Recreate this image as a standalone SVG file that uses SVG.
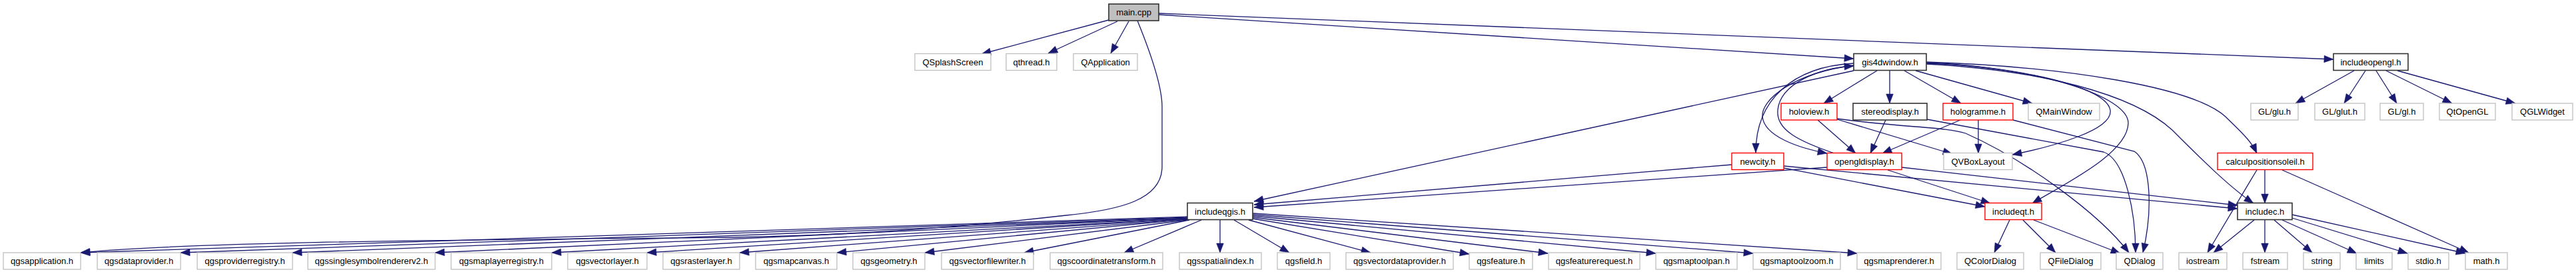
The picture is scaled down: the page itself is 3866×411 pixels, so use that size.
<svg xmlns="http://www.w3.org/2000/svg" width="3866" height="411" viewBox="0 0 3866 411">
<style>
.n rect{fill:#fff;stroke:#bfbfbf;stroke-width:1.3}
.n.b rect{stroke:#333;stroke-width:1.6}
.n.r rect{stroke:#ff0000;stroke-width:1.4}
.n.m rect{fill:#bfbfbf;stroke:#333;stroke-width:1.6}
.n text{font-family:"Liberation Sans",Arial,sans-serif;font-size:13px;fill:#000;text-anchor:middle}
.e path{fill:none;stroke:#191970;stroke-width:1.3;marker-end:url(#ah)}
</style>
<defs>
<marker id="ah" markerUnits="userSpaceOnUse" markerWidth="16" markerHeight="12" viewBox="0 -6 14 12" refX="14" refY="0" orient="auto">
<path d="M0,-5.3 L14,0 L0,5.3 z" fill="#191970" stroke="#191970" stroke-width="0.5"/>
</marker>
</defs>
<rect width="3866" height="411" fill="#fff"/>
<g class="e" id="connectors">
<path d="M1664,30 L1473,81"/>
<path d="M1677,32 L1573,80"/>
<path d="M1694,32 L1667,80"/>
<path d="M1707,31 C1725,75 1744,130 1744,160 L1744,250 C1744,300 1680,315 1600,323 C1450,340 1300,352 1100,356 C700,360 300,362 121,379"/>
<path d="M1739,22 L2782,88"/>
<path d="M1739,20 L3502,89"/>
<path d="M2782,106 L1882,302"/>
<path d="M2782,95 C2690,100 2635,150 2635,229"/>
<path d="M2782,98 C2690,110 2643,150 2645,175 C2648,205 2700,222 2742,230"/>
<path d="M2753,230 C2700,212 2665,195 2668,165 C2672,125 2730,102 2782,99"/>
<path d="M2817,106 L2737,155"/>
<path d="M2836,106 L2836,155"/>
<path d="M2858,106 L2943,155"/>
<path d="M2875,106 L3050,155"/>
<path d="M2891,94 C3000,98 3160,125 3167,165 C3172,195 3080,220 3020,232"/>
<path d="M2891,95 C3060,100 3195,145 3194,185 C3193,230 3100,275 3050,305"/>
<path d="M2891,96 C3060,105 3200,140 3260,195 C3300,235 3345,280 3382,305"/>
<path d="M2891,93 C3100,100 3290,130 3340,175 C3360,195 3378,210 3387,230"/>
<path d="M2728,180 L2785,230"/>
<path d="M2757,179 L2930,231"/>
<path d="M2757,178 C2860,192 2920,190 2950,200 C3040,240 3150,320 3195,379"/>
<path d="M2830,180 L2807,230"/>
<path d="M2892,179 L3157,228 C3190,240 3205,320 3205,379"/>
<path d="M2942,180 L2825,230"/>
<path d="M2969,180 L2969,230"/>
<path d="M3021,180 L3203,227 C3230,245 3230,320 3216,379"/>
<path d="M2599,247 L1882,307"/>
<path d="M2677,252 L2979,310"/>
<path d="M2677,249 L3358,313"/>
<path d="M2742,251 L1882,311"/>
<path d="M2833,255 L2987,305"/>
<path d="M2854,251 L3358,308"/>
<path d="M3387,255 C3360,300 3330,350 3313,379"/>
<path d="M3399,255 L3399,305"/>
<path d="M3425,255 L3705,379"/>
<path d="M3016,330 L2993,379"/>
<path d="M3036,330 L3085,379"/>
<path d="M3052,330 L3182,380"/>
<path d="M3383,330 L3322,379"/>
<path d="M3399,330 L3399,379"/>
<path d="M3413,330 L3470,379"/>
<path d="M3425,330 L3537,380"/>
<path d="M3440,327 L3613,380"/>
<path d="M3440,322 L3700,380"/>
<path d="M3533,106 L3445,155"/>
<path d="M3550,106 L3518,155"/>
<path d="M3566,106 L3597,155"/>
<path d="M3581,106 L3680,155"/>
<path d="M3598,106 L3775,155"/>
<path d="M1782,325 L121,379"/>
<path d="M1782,326 L271,379"/>
<path d="M1782,327 L439,379"/>
<path d="M1782,327 L653,379"/>
<path d="M1782,328 L828,379"/>
<path d="M1782,328 L971,379"/>
<path d="M1782,329 L1110,379"/>
<path d="M1782,329 L1256,379"/>
<path d="M1782,330 L1388,379"/>
<path d="M1785,330 L1537,379"/>
<path d="M1803,330 L1687,379"/>
<path d="M1831,330 L1831,379"/>
<path d="M1852,330 L1935,379"/>
<path d="M1874,330 L2057,379"/>
<path d="M1880,328 L2205,381"/>
<path d="M1880,326 L2323,380"/>
<path d="M1880,324 L2485,380"/>
<path d="M1880,322 L2631,380"/>
<path d="M1880,320 L2787,380"/>
</g>
<g id="nodes">
<g class="n m" id="n-main"><rect x="1664" y="6" width="75" height="25"/><text x="1701.5" y="23">main.cpp</text></g>
<g class="n" id="n-qsplash"><rect x="1373" y="80.5" width="114" height="25"/><text x="1430" y="97.5">QSplashScreen</text></g>
<g class="n" id="n-qthread"><rect x="1510" y="80.5" width="76" height="25"/><text x="1548" y="97.5">qthread.h</text></g>
<g class="n" id="n-qapp"><rect x="1611" y="80.5" width="96" height="25"/><text x="1659" y="97.5">QApplication</text></g>
<g class="n b" id="n-gis4d"><rect x="2782" y="80.5" width="109" height="25"/><text x="2836.5" y="97.5">gis4dwindow.h</text></g>
<g class="n b" id="n-incgl"><rect x="3502" y="80.5" width="112" height="25"/><text x="3558" y="97.5">includeopengl.h</text></g>
<g class="n r" id="n-holoview"><rect x="2673" y="155" width="84" height="25"/><text x="2715" y="172">holoview.h</text></g>
<g class="n b" id="n-stereo"><rect x="2781" y="155" width="111" height="25"/><text x="2836.5" y="172">stereodisplay.h</text></g>
<g class="n r" id="n-hologramme"><rect x="2916" y="155" width="105" height="25"/><text x="2968.5" y="172">hologramme.h</text></g>
<g class="n" id="n-qmainwindow"><rect x="3044" y="155" width="107" height="25"/><text x="3097.5" y="172">QMainWindow</text></g>
<g class="n" id="n-glu"><rect x="3378" y="155" width="71" height="25"/><text x="3413.5" y="172">GL/glu.h</text></g>
<g class="n" id="n-glut"><rect x="3474" y="155" width="75" height="25"/><text x="3511.5" y="172">GL/glut.h</text></g>
<g class="n" id="n-gl"><rect x="3572" y="155" width="65" height="25"/><text x="3604.5" y="172">GL/gl.h</text></g>
<g class="n" id="n-qtopengl"><rect x="3661" y="155" width="84" height="25"/><text x="3703" y="172">QtOpenGL</text></g>
<g class="n" id="n-qglwidget"><rect x="3770" y="155" width="91" height="25"/><text x="3815.5" y="172">QGLWidget</text></g>
<g class="n r" id="n-newcity"><rect x="2599" y="229.5" width="78" height="25"/><text x="2638" y="246.5">newcity.h</text></g>
<g class="n r" id="n-opengldisplay"><rect x="2742" y="229.5" width="112" height="25"/><text x="2798" y="246.5">opengldisplay.h</text></g>
<g class="n" id="n-qvbox"><rect x="2917" y="229.5" width="103" height="25"/><text x="2968.5" y="246.5">QVBoxLayout</text></g>
<g class="n r" id="n-calc"><rect x="3328" y="229.5" width="143" height="25"/><text x="3399.5" y="246.5">calculpositionsoleil.h</text></g>
<g class="n b" id="n-incqgis"><rect x="1782" y="304.5" width="98" height="25"/><text x="1831" y="321.5">includeqgis.h</text></g>
<g class="n r" id="n-incqt"><rect x="2979" y="304.5" width="85" height="25"/><text x="3021.5" y="321.5">includeqt.h</text></g>
<g class="n b" id="n-incc"><rect x="3358" y="304.5" width="82" height="25"/><text x="3399" y="321.5">includec.h</text></g>
<g class="n" id="n-qgsapplication"><rect x="5" y="379" width="116" height="25"/><text x="63" y="396">qgsapplication.h</text></g>
<g class="n" id="n-qgsdataprovider"><rect x="146" y="379" width="125" height="25"/><text x="208.5" y="396">qgsdataprovider.h</text></g>
<g class="n" id="n-qgsproviderregistry"><rect x="296" y="379" width="143" height="25"/><text x="367.5" y="396">qgsproviderregistry.h</text></g>
<g class="n" id="n-qgssinglesymbol"><rect x="462" y="379" width="191" height="25"/><text x="557.5" y="396">qgssinglesymbolrendererv2.h</text></g>
<g class="n" id="n-qgsmaplayerregistry"><rect x="677" y="379" width="151" height="25"/><text x="752.5" y="396">qgsmaplayerregistry.h</text></g>
<g class="n" id="n-qgsvectorlayer"><rect x="852" y="379" width="119" height="25"/><text x="911.5" y="396">qgsvectorlayer.h</text></g>
<g class="n" id="n-qgsrasterlayer"><rect x="995" y="379" width="115" height="25"/><text x="1052.5" y="396">qgsrasterlayer.h</text></g>
<g class="n" id="n-qgsmapcanvas"><rect x="1134" y="379" width="122" height="25"/><text x="1195" y="396">qgsmapcanvas.h</text></g>
<g class="n" id="n-qgsgeometry"><rect x="1280" y="379" width="108" height="25"/><text x="1334" y="396">qgsgeometry.h</text></g>
<g class="n" id="n-qgsvectorfilewriter"><rect x="1413" y="379" width="138" height="25"/><text x="1482" y="396">qgsvectorfilewriter.h</text></g>
<g class="n" id="n-qgscoordinatetransform"><rect x="1576" y="379" width="169" height="25"/><text x="1660.5" y="396">qgscoordinatetransform.h</text></g>
<g class="n" id="n-qgsspatialindex"><rect x="1770" y="379" width="123" height="25"/><text x="1831.5" y="396">qgsspatialindex.h</text></g>
<g class="n" id="n-qgsfield"><rect x="1917" y="379" width="79" height="25"/><text x="1956.5" y="396">qgsfield.h</text></g>
<g class="n" id="n-qgsvectordataprovider"><rect x="2020" y="379" width="161" height="25"/><text x="2100.5" y="396">qgsvectordataprovider.h</text></g>
<g class="n" id="n-qgsfeature"><rect x="2205" y="379" width="95" height="25"/><text x="2252.5" y="396">qgsfeature.h</text></g>
<g class="n" id="n-qgsfeaturerequest"><rect x="2324" y="379" width="137" height="25"/><text x="2392.5" y="396">qgsfeaturerequest.h</text></g>
<g class="n" id="n-qgsmaptoolpan"><rect x="2485" y="379" width="122" height="25"/><text x="2546" y="396">qgsmaptoolpan.h</text></g>
<g class="n" id="n-qgsmaptoolzoom"><rect x="2631" y="379" width="131" height="25"/><text x="2696.5" y="396">qgsmaptoolzoom.h</text></g>
<g class="n" id="n-qgsmaprenderer"><rect x="2787" y="379" width="126" height="25"/><text x="2850" y="396">qgsmaprenderer.h</text></g>
<g class="n" id="n-qcolordialog"><rect x="2937" y="379" width="100" height="25"/><text x="2987" y="396">QColorDialog</text></g>
<g class="n" id="n-qfiledialog"><rect x="3062" y="379" width="91" height="25"/><text x="3107.5" y="396">QFileDialog</text></g>
<g class="n" id="n-qdialog"><rect x="3176" y="379" width="70" height="25"/><text x="3211" y="396">QDialog</text></g>
<g class="n" id="n-iostream"><rect x="3270" y="379" width="72" height="25"/><text x="3306" y="396">iostream</text></g>
<g class="n" id="n-fstream"><rect x="3366" y="379" width="67" height="25"/><text x="3399.5" y="396">fstream</text></g>
<g class="n" id="n-string"><rect x="3457" y="379" width="55" height="25"/><text x="3484.5" y="396">string</text></g>
<g class="n" id="n-limits"><rect x="3536" y="379" width="54" height="25"/><text x="3563" y="396">limits</text></g>
<g class="n" id="n-stdio"><rect x="3614" y="379" width="61" height="25"/><text x="3644.5" y="396">stdio.h</text></g>
<g class="n" id="n-math"><rect x="3700" y="379" width="63" height="25"/><text x="3731.5" y="396">math.h</text></g>
</g>
</svg>
